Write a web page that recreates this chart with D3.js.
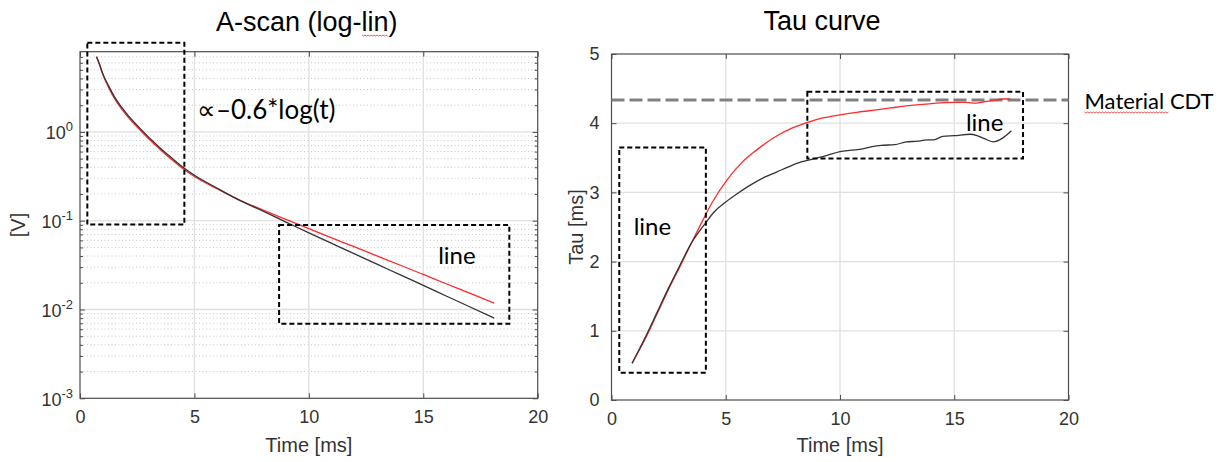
<!DOCTYPE html>
<html>
<head>
<meta charset="utf-8">
<script src="https://cdn.jsdelivr.net/npm/d3@7"></script>
<style>
  html, body { margin: 0; padding: 0; background: #ffffff; }
  svg { display: block; }
  .tick text { font-family: "Liberation Sans", Arial, sans-serif; }
</style>
</head>
<body>
<svg id="chart" width="1231" height="462"></svg>
<script>
// ---------------- DATA ----------------
// Left panel: A-scan (log-lin)
const ascanTime  = [0.72, 0.85, 1.0, 1.25, 1.5, 1.75, 2.0, 2.5, 3.0, 3.5, 4.0, 4.5, 5.0, 6.0, 7.0, 8.0, 9.0, 10.0, 11.0, 12.0, 13.0, 14.0, 15.0, 16.0, 17.0, 18.1];
const ascanBlack = [7.0, 5.8, 4.5, 3.3, 2.5, 2.0, 1.65, 1.18, 0.87, 0.66, 0.51, 0.40, 0.325, 0.232, 0.168, 0.128, 0.0965, 0.0728, 0.0555, 0.0423, 0.0322, 0.0245, 0.0187, 0.0142, 0.0108, 0.0080];
const ascanRed   = [7.0, 5.75, 4.4, 3.17, 2.39, 1.91, 1.58, 1.13, 0.835, 0.635, 0.49, 0.385, 0.315, 0.228, 0.170, 0.132, 0.1035, 0.0813, 0.0641, 0.0506, 0.0399, 0.0315, 0.0248, 0.0195, 0.0154, 0.0118];
const ascanXTicks = [0, 5, 10, 15, 20];
const ascanYTicks = [1e-3, 1e-2, 1e-1, 1e0];
const ascanYTickExp = ["-3", "-2", "-1", "0"];
const ascanYDomain = [1e-3, 8];

// Right panel: Tau curve
const tauTimeBlack = [0.9, 1.5, 2.0, 2.5, 3.0, 3.5, 4.1, 4.5, 5.0, 5.5, 6.0, 6.7, 7.2, 7.75, 8.3, 8.8, 9.4, 10.0, 10.5, 11.0, 11.4, 11.8, 12.4, 12.9, 13.4, 13.8, 14.1, 14.5, 15.0, 15.7, 16.0, 16.3, 16.7, 17.1, 17.5];
const tauBlack     = [0.53, 0.92, 1.27, 1.62, 1.95, 2.27, 2.55, 2.72, 2.86, 2.98, 3.09, 3.22, 3.29, 3.37, 3.44, 3.48, 3.53, 3.59, 3.61, 3.63, 3.66, 3.68, 3.69, 3.73, 3.74, 3.76, 3.76, 3.81, 3.82, 3.84, 3.82, 3.78, 3.73, 3.78, 3.89];
const tauTimeRed   = [0.9, 1.5, 2.0, 2.5, 3.0, 3.5, 4.0, 4.4, 5.1, 5.7, 6.3, 7.3, 7.9, 8.55, 9.3, 10.0, 10.8, 11.5, 12.2, 12.9, 13.9, 14.95, 15.5, 15.97, 16.3, 16.7, 17.1, 17.45];
const tauRed       = [0.53, 0.90, 1.25, 1.60, 1.93, 2.27, 2.60, 2.85, 3.20, 3.43, 3.60, 3.83, 3.93, 4.01, 4.08, 4.12, 4.16, 4.19, 4.22, 4.25, 4.28, 4.30, 4.30, 4.29, 4.31, 4.33, 4.35, 4.35];
const tauXTicks = [0, 5, 10, 15, 20];
const tauYTicks = [0, 1, 2, 3, 4, 5];
const materialCDT = 4.335;

// Annotations (data units)
const ascanBoxes = [[0.32, 4.56, 0.0904, 10.1], [8.70, 18.76, 0.00692, 0.0897]];
const tauBoxes   = [[0.34, 4.13, 0.395, 3.65], [8.57, 18.01, 3.49, 4.455]];
const ascanNotes = [["\u221D\u20130.6*log(t)", 5.11, 1.41], ["line", 15.65, 0.0327]];
const tauNotes   = [["line", 0.97, 2.39], ["line", 15.51, 3.89]];

// ---------------- LAYOUT ----------------
const svg = d3.select("#chart");
const axisColor = "#4d4d4d", labelColor = "#333333";
const tickFont = "Liberation Sans, Arial, sans-serif";
const noteFont = "Lato, 'Open Sans', sans-serif";

const L = {left: 80, right: 537.7, top: 51.7, bottom: 398.3};
const R = {left: 611.5, right: 1068.5, top: 54, bottom: 400};

const xA = d3.scaleLinear().domain([0, 20]).range([L.left, L.right]);
const yA = d3.scaleLog().domain(ascanYDomain).range([L.bottom, L.top]);
const xT = d3.scaleLinear().domain([0, 20]).range([R.left, R.right]);
const yT = d3.scaleLinear().domain([0, 5]).range([R.bottom, R.top]);

// ---------- Left panel grids ----------
const gA = svg.append("g");
const minorVals = [];
for (let e = -3; e <= 0; e++) for (let m = 2; m <= 9; m++) {
  const v = m * Math.pow(10, e);
  if (v < ascanYDomain[1]) minorVals.push(v);
}
gA.selectAll(".minor").data(minorVals).join("line")
  .attr("x1", L.left).attr("x2", L.right)
  .attr("y1", d => yA(d)).attr("y2", d => yA(d))
  .attr("stroke", "#c8c8c8").attr("stroke-width", 1).attr("stroke-dasharray", "1,2.5");
gA.selectAll(".gy").data(ascanYTicks.slice(1)).join("line")
  .attr("x1", L.left).attr("x2", L.right)
  .attr("y1", d => yA(d)).attr("y2", d => yA(d))
  .attr("stroke", "#e0e0e0").attr("stroke-width", 1.3);
gA.selectAll(".gx").data(ascanXTicks.slice(1, -1)).join("line")
  .attr("x1", d => xA(d)).attr("x2", d => xA(d))
  .attr("y1", L.top).attr("y2", L.bottom)
  .attr("stroke", "#e0e0e0").attr("stroke-width", 1.3);

// ---------- Right panel grids ----------
const gT = svg.append("g");
gT.selectAll(".gy").data(tauYTicks.slice(1, -1)).join("line")
  .attr("x1", R.left).attr("x2", R.right)
  .attr("y1", d => yT(d)).attr("y2", d => yT(d))
  .attr("stroke", "#e0e0e0").attr("stroke-width", 1.3);
gT.selectAll(".gx").data(tauXTicks.slice(1, -1)).join("line")
  .attr("x1", d => xT(d)).attr("x2", d => xT(d))
  .attr("y1", R.top).attr("y2", R.bottom)
  .attr("stroke", "#e0e0e0").attr("stroke-width", 1.3);

// ---------- Axes frames & ticks ----------
function frame(g, B) {
  g.append("rect").attr("x", B.left).attr("y", B.top)
    .attr("width", B.right - B.left).attr("height", B.bottom - B.top)
    .attr("fill", "none").attr("stroke", axisColor).attr("stroke-width", 1.2);
}
function styleAxis(sel) {
  sel.select(".domain").remove();
  sel.selectAll(".tick line").attr("stroke", axisColor);
  sel.selectAll(".tick text").attr("fill", labelColor).style("font-family", tickFont).style("font-size", "18px");
}

gA.append("g").attr("transform", `translate(0,${L.bottom})`)
  .call(d3.axisBottom(xA).tickValues(ascanXTicks).tickSize(-5).tickPadding(12).tickFormat(d3.format("d")))
  .call(styleAxis);
gA.append("g").attr("transform", `translate(0,${L.top})`)
  .call(d3.axisTop(xA).tickValues(ascanXTicks).tickSize(-5).tickFormat(""))
  .call(styleAxis);
const yAxL = gA.append("g").attr("transform", `translate(${L.left},0)`)
  .call(d3.axisLeft(yA).tickValues(ascanYTicks).tickSize(-5).tickPadding(10).tickFormat(""))
  .call(styleAxis);
yAxL.selectAll(".tick").each(function(d, i) {
  const t = d3.select(this).append("text")
    .attr("x", -7).attr("y", 7).attr("text-anchor", "end")
    .attr("fill", labelColor).style("font-family", tickFont).style("font-size", "18px");
  t.append("tspan").text("10");
  t.append("tspan").attr("dy", -8).style("font-size", "13px").text(ascanYTickExp[i]);
});
gA.append("g").attr("transform", `translate(${L.left},0)`)
  .call(d3.axisLeft(yA).tickValues(minorVals).tickSize(-3).tickFormat(""))
  .call(styleAxis);
gA.append("g").attr("transform", `translate(${L.right},0)`)
  .call(d3.axisRight(yA).tickValues(ascanYTicks).tickSize(-5).tickFormat(""))
  .call(styleAxis);
gA.append("g").attr("transform", `translate(${L.right},0)`)
  .call(d3.axisRight(yA).tickValues(minorVals).tickSize(-3).tickFormat(""))
  .call(styleAxis);
frame(gA, L);

gT.append("g").attr("transform", `translate(0,${R.bottom})`)
  .call(d3.axisBottom(xT).tickValues(tauXTicks).tickSize(-5).tickPadding(12).tickFormat(d3.format("d")))
  .call(styleAxis);
gT.append("g").attr("transform", `translate(0,${R.top})`)
  .call(d3.axisTop(xT).tickValues(tauXTicks).tickSize(-5).tickFormat(""))
  .call(styleAxis);
gT.append("g").attr("transform", `translate(${R.left},0)`)
  .call(d3.axisLeft(yT).tickValues(tauYTicks).tickSize(-5).tickPadding(12).tickFormat(d3.format("d")))
  .call(styleAxis);
gT.append("g").attr("transform", `translate(${R.right},0)`)
  .call(d3.axisRight(yT).tickValues(tauYTicks).tickSize(-5).tickFormat(""))
  .call(styleAxis);
frame(gT, R);

// ---------- Titles & axis labels ----------
function text(g, str, x, y, size, opts = {}) {
  const t = g.append("text").attr("x", x).attr("y", y)
    .attr("text-anchor", opts.anchor || "middle")
    .attr("fill", opts.fill || "#000")
    .style("font-family", opts.font || tickFont)
    .style("font-size", size + "px")
    .text(str);
  if (opts.rotate) t.attr("transform", `rotate(-90,${x},${y})`);
  return t;
}
text(svg, "A-scan (log-lin)", (L.left + L.right) / 2 - 2, 31, 27);
text(svg, "Tau curve", (R.left + R.right) / 2 - 18, 30, 27);
text(svg, "Time [ms]", (L.left + L.right) / 2, 452, 20, {fill: labelColor});
text(svg, "Time [ms]", (R.left + R.right) / 2, 452, 20, {fill: labelColor});
text(svg, "[V]", 25, (L.top + L.bottom) / 2, 20, {fill: labelColor, rotate: true});
text(svg, "Tau [ms]", 583, (R.top + R.bottom) / 2, 20, {fill: labelColor, rotate: true});

// ---------- Curves ----------
const lineA = d3.line().x(d => xA(d[0])).y(d => yA(d[1])).curve(d3.curveMonotoneX);
const lineT = d3.line().x(d => xT(d[0])).y(d => yT(d[1])).curve(d3.curveMonotoneX);

svg.append("path").datum(d3.zip(ascanTime, ascanRed)).attr("d", lineA)
  .attr("fill", "none").attr("stroke", "#ff2a2a").attr("stroke-width", 1.3);
svg.append("path").datum(d3.zip(ascanTime, ascanBlack)).attr("d", lineA)
  .attr("fill", "none").attr("stroke", "#333333").attr("stroke-width", 1.3);

svg.append("line")
  .attr("x1", xT(0)).attr("x2", xT(20))
  .attr("y1", yT(materialCDT)).attr("y2", yT(materialCDT))
  .attr("stroke", "#808080").attr("stroke-width", 3).attr("stroke-dasharray", "13,5");

svg.append("path").datum(d3.zip(tauTimeRed, tauRed)).attr("d", lineT)
  .attr("fill", "none").attr("stroke", "#ff2a2a").attr("stroke-width", 1.3);
svg.append("path").datum(d3.zip(tauTimeBlack, tauBlack)).attr("d", lineT)
  .attr("fill", "none").attr("stroke", "#333333").attr("stroke-width", 1.3);

// ---------- Annotations ----------
function boxes(list, xs, ys) {
  svg.selectAll(null).data(list).join("rect")
    .attr("x", d => xs(d[0])).attr("width", d => xs(d[1]) - xs(d[0]))
    .attr("y", d => ys(d[3])).attr("height", d => ys(d[2]) - ys(d[3]))
    .attr("fill", "none").attr("stroke", "#000").attr("stroke-width", 2)
    .attr("stroke-dasharray", "5,3");
}
boxes(ascanBoxes, xA, yA);
boxes(tauBoxes, xT, yT);

function notes(list, xs, ys, size) {
  svg.selectAll(null).data(list).join("text")
    .attr("x", d => xs(d[1])).attr("y", d => ys(d[2]))
    .attr("fill", "#000").style("font-family", noteFont).style("font-size", size + "px")
    .text(d => d[0]);
}
notes(ascanNotes.slice(0, 1), xA, yA, 26);
notes(ascanNotes.slice(1), xA, yA, 24);
notes(tauNotes, xT, yT, 24);

text(svg, "Material CDT", xT(20) + 16, yT(materialCDT) + 9, 22, {anchor: "start", font: noteFont});

function squiggle(x0, x1, y) {
  const pts = [];
  for (let x = x0, k = 0; x <= x1; x += 1.5, k++) pts.push([x, y + (k % 2 ? 1 : 0)]);
  svg.append("path").attr("d", d3.line()(pts)).attr("fill", "none")
    .attr("stroke", "#e0302a").attr("stroke-width", 0.8);
}
squiggle(362, 388, 35);
squiggle(xT(20) + 16, xT(20) + 100, yT(materialCDT) + 12);
</script>
</body>
</html>
